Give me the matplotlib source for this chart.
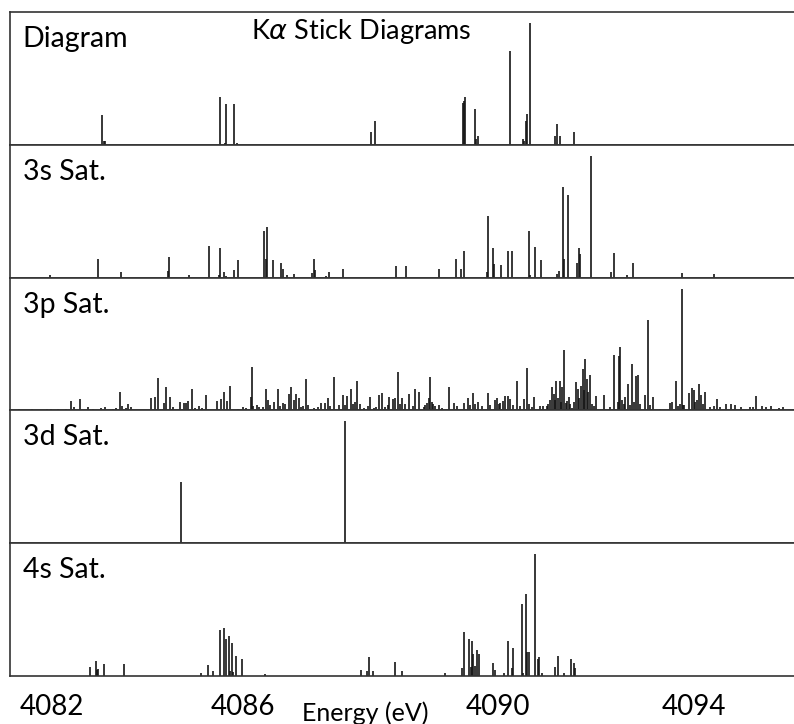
#!/usr/bin/env python3
"""Ka stick diagrams: five stacked panels of transition sticks."""

import matplotlib

matplotlib.use("Agg")
import matplotlib.pyplot as plt

# ---- data (energy in eV, relative intensity in a.u.) ----
diag_e = [4082.09, 4082.12, 4082.14, 4084.44, 4084.55, 4084.56, 4084.74, 4084.79,
          4087.47, 4087.54, 4089.31, 4089.33, 4089.35, 4089.54, 4089.56, 4089.60,
          4090.25, 4090.50, 4090.52, 4090.56, 4090.59, 4090.65, 4091.15, 4091.18,
          4091.24, 4091.52]
diag_i = [30, 4, 4, 48, 2, 41, 41, 2,
          13, 24, 42, 44, 48, 36, 6, 9,
          93, 6, 4, 24, 31, 121, 9, 21,
          9, 13]

sat3s_e = [4081.04, 4082.00, 4082.46, 4083.40, 4083.42, 4083.82, 4084.24, 4084.42,
           4084.44, 4084.53, 4084.56, 4084.74, 4084.80, 4085.32, 4085.36, 4085.38,
           4085.50, 4085.66, 4085.70, 4085.78, 4085.93, 4086.29, 4086.32, 4086.34,
           4086.57, 4086.63, 4086.90, 4087.97, 4088.17, 4088.82, 4089.16, 4089.26,
           4089.32, 4089.78, 4089.81, 4089.90, 4089.92, 4090.07, 4090.21, 4090.28,
           4090.62, 4090.65, 4090.74, 4090.86, 4091.18, 4091.22, 4091.30, 4091.32,
           4091.41, 4091.58, 4091.62, 4091.64, 4091.86, 4092.26, 4092.32, 4092.58,
           4092.70, 4093.69, 4094.32]
sat3s_i = [3, 18, 6, 7, 20, 3, 31, 3,
           29, 6, 2, 8, 17, 46, 18, 50,
           17, 15, 9, 3, 4, 5, 18, 8,
           2, 6, 9, 12, 12, 9, 18, 9,
           26, 6, 61, 29, 14, 13, 26, 26,
           46, 3, 30, 17, 4, 7, 90, 18,
           82, 15, 29, 23, 121, 6, 24, 3,
           15, 5, 4]

sat3p_e = [4080.43, 4080.70, 4080.98, 4081.06, 4081.22, 4081.36, 4081.47, 4081.53,
           4081.65, 4081.80, 4081.90, 4082.06, 4082.15, 4082.30, 4082.37, 4082.44,
           4082.49, 4082.56, 4082.60, 4082.68, 4083.07, 4083.15, 4083.22, 4083.32,
           4083.37, 4083.45, 4083.50, 4083.65, 4083.73, 4083.76, 4083.81, 4083.89,
           4083.95, 4084.02, 4084.08, 4084.16, 4084.38, 4084.46, 4084.53, 4084.58,
           4084.65, 4084.80, 4084.90, 4084.97, 4085.06, 4085.08, 4085.20, 4085.24,
           4085.37, 4085.40, 4085.52, 4085.60, 4085.70, 4085.82, 4085.87, 4085.92,
           4085.96, 4086.02, 4086.07, 4086.16, 4086.32, 4086.36, 4086.47, 4086.54,
           4086.60, 4086.74, 4086.83, 4086.90, 4086.98, 4087.07, 4087.18, 4087.25,
           4087.33, 4087.45, 4087.52, 4087.62, 4087.68, 4087.75, 4087.83, 4087.90,
           4087.95, 4088.00, 4088.08, 4088.15, 4088.22, 4088.35, 4088.42, 4088.52,
           4088.58, 4088.62, 4088.64, 4088.68, 4088.82, 4088.88, 4089.02, 4089.12,
           4089.18, 4089.32, 4089.40, 4089.50, 4089.55, 4089.68, 4089.80, 4089.94,
           4089.98, 4090.02, 4090.10, 4090.15, 4090.20, 4090.25, 4090.38, 4090.53,
           4090.58, 4090.68, 4090.73, 4090.84, 4090.90, 4090.98, 4091.04, 4091.09,
           4091.12, 4091.17, 4091.24, 4091.28, 4091.32, 4091.36, 4091.42, 4091.48,
           4091.56, 4091.60, 4091.63, 4091.66, 4091.70, 4091.73, 4091.75, 4091.78,
           4091.81, 4091.84, 4091.88, 4091.96, 4092.13, 4092.25, 4092.33, 4092.40,
           4092.42, 4092.45, 4092.55, 4092.60, 4092.65, 4092.69, 4092.77, 4092.80,
           4092.95, 4093.01, 4093.10, 4093.25, 4093.44, 4093.48, 4093.56, 4093.61,
           4093.68, 4093.73, 4093.83, 4093.88, 4093.92, 4093.98, 4094.03, 4094.06,
           4094.15, 4094.25, 4094.32, 4094.38, 4094.45, 4094.56, 4094.66, 4094.75,
           4094.86, 4095.05, 4095.10, 4095.17, 4095.28, 4095.37, 4095.46, 4095.62,
           4095.70,
           # weak lines that fill the baseline
           4085.10, 4085.30, 4085.45, 4085.65, 4085.75, 4086.10, 4086.20, 4086.40,
           4086.65, 4086.95, 4087.10, 4087.15, 4087.40, 4087.57, 4087.80, 4088.05,
           4088.30, 4088.55, 4088.70, 4088.75, 4089.45, 4089.60, 4089.85, 4090.05,
           4090.30, 4090.45, 4090.62, 4091.00, 4091.14, 4091.20, 4091.26, 4091.39,
           4091.45, 4091.52, 4091.92, 4092.48, 4092.52, 4092.72, 4092.84, 4093.05,
           4093.65, 4093.70, 4093.95, 4094.10]
sat3p_i = [1, 1.5, 1, 1, 1, 1.5, 9, 3,
           11, 3, 1, 2, 3, 1, 2, 18,
           4, 2, 6, 3, 12, 13, 32, 7,
           23, 13, 3, 8, 7, 7, 9, 21,
           2, 4, 2, 15, 9, 11, 18, 9,
           24, 1, 3, 2, 13, 43, 5, 3,
           21, 10, 8, 21, 7, 16, 23, 10,
           16, 12, 3, 31, 2, 1, 7, 7,
           12, 33, 5, 15, 14, 21, 29, 6,
           2, 13, 2, 15, 17, 3, 13, 11,
           12, 38, 12, 6, 16, 21, 18, 3,
           7, 12, 33, 8, 5, 2, 23, 7,
           4, 7, 12, 17, 6, 4, 17, 10,
           12, 6, 9, 14, 14, 11, 29, 11,
           42, 3, 13, 4, 4, 4, 10, 23,
           16, 29, 29, 23, 60, 7, 13, 2,
           28, 21, 12, 24, 41, 20, 51, 31,
           18, 35, 6, 14, 15, 3, 55, 8,
           54, 63, 13, 26, 5, 46, 34, 35,
           15, 90, 13, 1, 7, 8, 29, 4,
           121, 5, 17, 22, 20, 10, 26, 15,
           18, 3, 4, 11, 3, 6, 6, 5,
           3, 3, 3, 14, 4, 3, 4, 2,
           3,
           4, 3, 5, 4, 6, 4, 5, 3,
           4, 5, 6, 8, 4, 3, 5, 6,
           4, 5, 6, 4, 5, 8, 5, 7,
           5, 4, 6, 6, 10, 12, 8, 9,
           6, 8, 4, 10, 6, 8, 6, 5,
           6, 5, 8, 6]

sat3d_e = [4083.66, 4086.95]
sat3d_i = [61, 121]

sat4s_e = [4081.85, 4081.96, 4081.98, 4082.00, 4082.12, 4082.53, 4084.07, 4084.22,
           4084.30, 4084.44, 4084.53, 4084.57, 4084.62, 4084.65, 4084.68, 4084.71,
           4084.77, 4084.88, 4085.35, 4087.27, 4087.38, 4087.42, 4087.50, 4087.95,
           4088.08, 4088.94, 4089.28, 4089.32, 4089.42, 4089.46, 4089.48, 4089.51,
           4089.55, 4089.58, 4089.63, 4089.90, 4089.94, 4090.13, 4090.21, 4090.28,
           4090.30, 4090.48, 4090.50, 4090.56, 4090.59, 4090.62, 4090.74, 4090.80,
           4090.82, 4090.88, 4091.14, 4091.20, 4091.33, 4091.46, 4091.52, 4091.55]
sat4s_i = [9, 15, 6, 7, 12, 12, 3, 11,
           5, 46, 48, 37, 40, 5, 33, 4,
           20, 17, 2, 6, 5, 19, 5, 14,
           5, 3, 8, 44, 37, 9, 35, 22,
           10, 26, 22, 13, 6, 3, 35, 8,
           28, 72, 3, 82, 24, 24, 121, 17,
           19, 3, 9, 20, 3, 17, 13, 8]

panel_names = ["Diagram", "3s Sat.", "3p Sat.", "3d Sat.", "4s Sat."]
tick_pos = [4081.09, 4084.91, 4090.0, 4093.93]
tick_labels = ["4082", "4086", "4090", "4094"]


def main() -> None:
    plt.rcParams["font.family"] = ["Lato", "DejaVu Sans"]
    edge = "#333333"
    stick = "#151515"

    panels = [
        (diag_e, diag_i),
        (sat3s_e, sat3s_i),
        (sat3p_e, sat3p_i),
        (sat3d_e, sat3d_i),
        (sat4s_e, sat4s_i),
    ]

    fig = plt.figure(figsize=(7.94, 7.24), dpi=100)
    gs = fig.add_gridspec(5, 1, left=10 / 794, right=1.0,
                          top=1 - 12 / 724, bottom=1 - 676 / 724, hspace=0)
    axes = []
    for k, ((e, i), name) in enumerate(zip(panels, panel_names)):
        ax = fig.add_subplot(gs[k])
        ax.vlines(e, 0, i, color=stick, lw=1.2)
        ax.set_xlim(4080.25, 4095.93)
        ax.set_ylim(0, 132)
        ax.set_yticks([])
        for side in ("left", "top", "bottom"):
            ax.spines[side].set_color(edge)
            ax.spines[side].set_linewidth(1.2)
        ax.spines["right"].set_visible(False)
        ax.text(0.0162, 0.736, name, transform=ax.transAxes, ha="left",
                va="baseline", fontsize=20.5, color="black")
        ax.tick_params(axis="x", length=0)
        if k < 4:
            ax.set_xticks([])
        else:
            ax.set_xticks(tick_pos)
            ax.set_xticklabels(tick_labels, fontsize=20)
            ax.tick_params(axis="x", pad=13)
        axes.append(ax)

    axes[0].text((361 - 10) / 784, 0.797, r"K$\alpha$ Stick Diagrams",
                 transform=axes[0].transAxes, ha="center", va="baseline",
                 fontsize=19.5)
    fig.text(365 / 794, 1 - 721 / 724, "Energy (eV)", ha="center",
             va="baseline", fontsize=18)

    fig.savefig("out.png", dpi=100)
    plt.close(fig)


if __name__ == "__main__":
    main()
